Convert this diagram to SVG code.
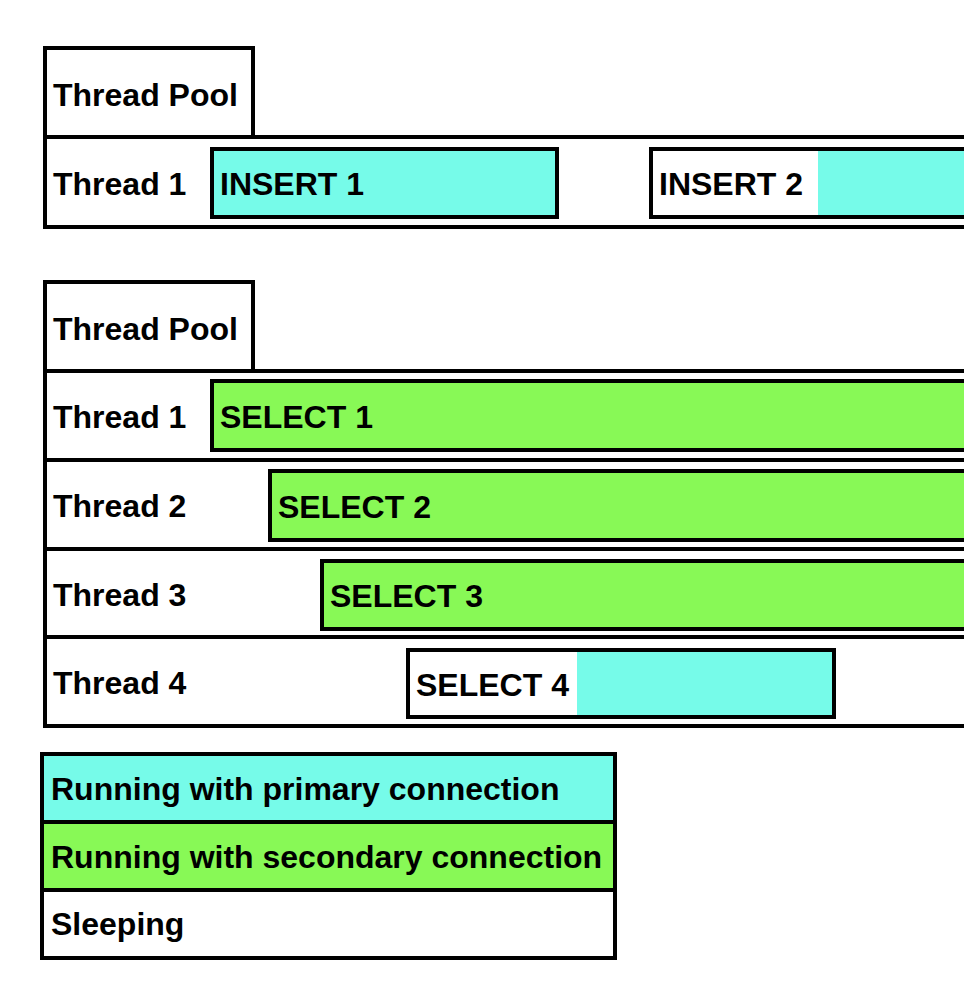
<svg xmlns="http://www.w3.org/2000/svg" width="964" height="1000" viewBox="0 0 964 1000">
<style>
rect{stroke:#000;stroke-width:4}
.w{fill:#fff}.c{fill:#76FBE9}.g{fill:#88F956}
rect.n{fill:#fff;stroke:none}
text{font-family:"Liberation Sans",Arial,sans-serif;font-weight:bold;font-size:32px;fill:#000}
</style>
<rect class="n" width="964" height="1000"/>
<g id="pool1">
<rect class="w" x="45" y="48" width="208" height="89"/>
<text x="53" y="106">Thread Pool</text>
</g>
<g id="p1-thread1">
<rect class="w" x="45" y="137" width="930" height="90"/>
<text x="53" y="195">Thread 1</text>
</g>
<g id="insert1">
<rect class="c" x="212" y="149" width="345" height="68"/>
<text x="220" y="195">INSERT 1</text>
</g>
<g id="insert2">
<rect class="c" x="651" y="149" width="330" height="68"/>
<rect class="n" x="653" y="151" width="165" height="64"/>
<text x="659" y="195">INSERT 2</text>
</g>
<g id="pool2">
<rect class="w" x="45" y="282" width="208" height="89"/>
<text x="53" y="340">Thread Pool</text>
</g>
<g id="p2-thread1"><rect class="w" x="45" y="371" width="930" height="89"/><text x="53" y="428">Thread 1</text></g>
<g id="p2-thread2"><rect class="w" x="45" y="460" width="930" height="89"/><text x="53" y="517">Thread 2</text></g>
<g id="p2-thread3"><rect class="w" x="45" y="549" width="930" height="88"/><text x="53" y="606">Thread 3</text></g>
<g id="p2-thread4"><rect class="w" x="45" y="637" width="930" height="89"/><text x="53" y="694">Thread 4</text></g>
<g id="select1"><rect class="g" x="212" y="381" width="770" height="69"/><text x="220" y="428">SELECT 1</text></g>
<g id="select2"><rect class="g" x="270" y="471" width="710" height="69"/><text x="278" y="518">SELECT 2</text></g>
<g id="select3"><rect class="g" x="322" y="561" width="660" height="68"/><text x="330" y="607">SELECT 3</text></g>
<g id="select4">
<rect class="c" x="408" y="650" width="426" height="67"/>
<rect class="n" x="410" y="652" width="167" height="63"/>
<text x="416" y="696">SELECT 4</text>
</g>
<g id="legend">
<rect class="c" x="42" y="754" width="573" height="68"/>
<text x="51" y="800">Running with primary connection</text>
<rect class="g" x="42" y="822" width="573" height="68"/>
<text x="51" y="868">Running with secondary connection</text>
<rect class="w" x="42" y="890" width="573" height="68"/>
<text x="51" y="935">Sleeping</text>
</g>
<g id="connectors"></g>
</svg>
